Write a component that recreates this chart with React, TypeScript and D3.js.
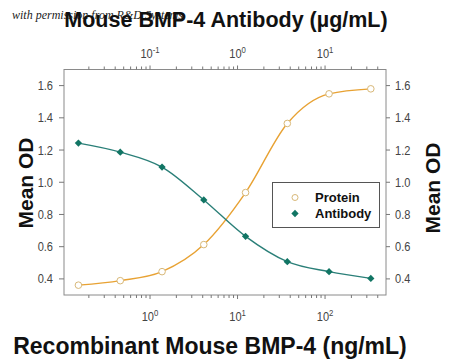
import React from "react";
import * as d3 from "d3";

// Bottom axis: Recombinant Mouse BMP-4 (ng/mL)
const proteinConc = [0.152, 0.457, 1.372, 4.115, 12.35, 37.04, 111.1, 333.3];
const proteinOD = [0.361, 0.389, 0.445, 0.613, 0.936, 1.365, 1.549, 1.58];
// Top axis: Mouse BMP-4 Antibody (µg/mL)
const antibodyConc = [0.0152, 0.0457, 0.1372, 0.4115, 1.235, 3.704, 11.11, 33.33];
const antibodyOD = [1.243, 1.187, 1.094, 0.89, 0.664, 0.507, 0.445, 0.403];

const yTicks = [0.4, 0.6, 0.8, 1.0, 1.2, 1.4, 1.6];
const bottomMajor = [1, 10, 100];
const topMajor = [0.1, 1, 10];
const legendLabels = ["Protein", "Antibody"];

const W = 450;
const H = 363;
const L = 64, R = 386, T = 69.5, B = 295;

const tickFont = "'Liberation Sans Narrow', 'Liberation Sans', Arial, sans-serif";
const boldFont = "'Liberation Sans', Arial, sans-serif";

const ORANGE = "#e8a233";
const TEAL = "#2a7f78";
const TEAL_MARK = "#117564";
const TAN = "#d8b878";
const SX = 0.82;

function minorTicks(domain: number[]) {
  const out: number[] = [];
  const lo = Math.floor(Math.log10(domain[0]));
  const hi = Math.ceil(Math.log10(domain[1]));
  for (let e = lo; e <= hi; e++) {
    for (let m = 1; m <= 9; m++) {
      const v = m * Math.pow(10, e);
      if (v >= domain[0] && v <= domain[1]) out.push(v);
    }
  }
  return out;
}

function exp(v: number) {
  return Math.round(Math.log10(v));
}

function PowLabel({ x, yy, v }: { x: number; yy: number; v: number }) {
  return (
    <text
      transform={`translate(${x},${yy}) scale(${SX},1)`}
      textAnchor="middle"
      fontFamily={tickFont}
      fontSize={13.5}
      fill="#444"
    >
      10<tspan dy={-5.5} fontSize={9.5}>{exp(v)}</tspan>
    </text>
  );
}

export default function App() {
  const xB = d3.scaleLog().domain([0.104, 497]).range([L, R]);
  const xT = d3.scaleLog().domain([0.0104, 49.7]).range([L, R]);
  const y = d3.scaleLinear().domain([0.3, 1.7]).range([B, T]);

  const protLine = d3
    .line<number>()
    .x((_, i) => xB(proteinConc[i]))
    .y((d) => y(d))
    .curve(d3.curveMonotoneX)(proteinOD) as string;
  const abLine = d3
    .line<number>()
    .x((_, i) => xT(antibodyConc[i]))
    .y((d) => y(d))
    .curve(d3.curveMonotoneX)(antibodyOD) as string;

  const diamond = d3.symbol().type(d3.symbolDiamond2).size(34)() as string;

  return (
    <svg
      width={W}
      height={H}
      style={{ position: "absolute", left: 0, top: 0, background: "#fff" }}
    >
      <rect x={0} y={0} width={W} height={H} fill="#fff" />
      <text
        x={12}
        y={18.5}
        fontFamily="'Liberation Serif', 'DejaVu Serif', serif"
        fontStyle="italic"
        fontSize={12}
        fill="#222"
      >
        with permission from R&amp;D Systems
      </text>
      <text
        x={226}
        y={26.5}
        textAnchor="middle"
        fontFamily={boldFont}
        fontWeight="bold"
        fontSize={21.5}
        fill="#111"
      >
        Mouse BMP-4 Antibody (µg/mL)
      </text>

      {/* frame */}
      <rect x={L} y={T} width={R - L} height={B - T} fill="none" stroke="#8a8a8a" strokeWidth={1} />

      {/* bottom ticks */}
      {minorTicks(xB.domain()).map((v, i) => (
        <line key={"bm" + i} x1={xB(v)} x2={xB(v)} y1={B} y2={B + (bottomMajor.includes(v) ? 4 : 3)} stroke="#777" />
      ))}
      {bottomMajor.map((v) => (
        <PowLabel key={"bl" + v} x={xB(v)} yy={321} v={v} />
      ))}

      {/* top ticks */}
      {minorTicks(xT.domain()).map((v, i) => (
        <line key={"tm" + i} x1={xT(v)} x2={xT(v)} y1={T} y2={T - (topMajor.includes(v) ? 4 : 3)} stroke="#777" />
      ))}
      {topMajor.map((v) => (
        <PowLabel key={"tl" + v} x={xT(v)} yy={58} v={v} />
      ))}

      {/* y ticks both sides */}
      {yTicks.map((v) => (
        <g key={"y" + v}>
          <line x1={L - 5} x2={L} y1={y(v)} y2={y(v)} stroke="#777" />
          <line x1={R} x2={R + 4} y1={y(v)} y2={y(v)} stroke="#777" />
          <text
            transform={`translate(53,${y(v) + 4.5}) scale(${SX},1)`}
            textAnchor="end"
            fontFamily={tickFont}
            fontSize={13.5}
            fill="#444"
          >
            {v.toFixed(1)}
          </text>
          <text
            transform={`translate(395,${y(v) + 4.5}) scale(${SX},1)`}
            textAnchor="start"
            fontFamily={tickFont}
            fontSize={13.5}
            fill="#444"
          >
            {v.toFixed(1)}
          </text>
        </g>
      ))}

      {/* axis titles */}
      <text
        transform="translate(33,183) rotate(-90)"
        textAnchor="middle"
        fontFamily={boldFont}
        fontWeight="bold"
        fontSize={21}
        fill="#111"
      >
        Mean OD
      </text>
      <text
        transform="translate(440,188) rotate(-90)"
        textAnchor="middle"
        fontFamily={boldFont}
        fontWeight="bold"
        fontSize={21}
        fill="#111"
      >
        Mean OD
      </text>
      <text
        x={210}
        y={354}
        textAnchor="middle"
        fontFamily={boldFont}
        fontWeight="bold"
        fontSize={23}
        fill="#111"
      >
        Recombinant Mouse BMP-4 (ng/mL)
      </text>

      {/* curves */}
      <path d={protLine} fill="none" stroke={ORANGE} strokeWidth={1.4} />
      <path d={abLine} fill="none" stroke={TEAL} strokeWidth={1.4} />

      {/* markers */}
      {proteinOD.map((v, i) => (
        <circle key={"p" + i} cx={xB(proteinConc[i])} cy={y(v)} r={3.3} fill="#fff" stroke={TAN} strokeWidth={1} />
      ))}
      {antibodyOD.map((v, i) => (
        <path key={"a" + i} d={diamond} transform={`translate(${xT(antibodyConc[i])},${y(v)})`} fill={TEAL_MARK} />
      ))}

      {/* legend */}
      <rect x={272.5} y={182.5} width={107} height={45} fill="#fff" stroke="#555" strokeWidth={1} />
      <circle cx={295} cy={197.5} r={3} fill="#fff" stroke={TAN} strokeWidth={1} />
      <path d={diamond} transform="translate(295,213.5)" fill={TEAL_MARK} />
      <text x={315} y={202} fontFamily={boldFont} fontWeight="bold" fontSize={13} fill="#111">
        {legendLabels[0]}
      </text>
      <text x={315} y={218} fontFamily={boldFont} fontWeight="bold" fontSize={13} fill="#111">
        {legendLabels[1]}
      </text>
    </svg>
  );
}
